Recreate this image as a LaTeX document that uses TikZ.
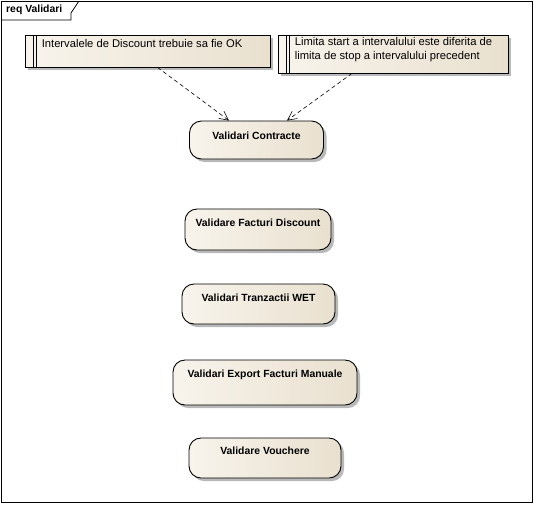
\documentclass[tikz,border=0pt]{standalone}
\usepackage{fontspec}
\setmainfont{Liberation Sans}
\usetikzlibrary{arrows.meta,shadows,calc}
\definecolor{fillL}{HTML}{F8F4EC}
\definecolor{fillR}{HTML}{E9E0CF}
\definecolor{shadowc}{HTML}{A8A8A8}
\tikzset{
  ucbox/.style={draw=black, line width=0.9pt, rounded corners=12pt, left color=fillL, right color=fillR,
    drop shadow={shadow xshift=3pt, shadow yshift=-3pt, fill=shadowc, opacity=0.8}, inner sep=0pt},
  notebox/.style={draw=black, line width=0.8pt, left color=fillL, right color=fillR,
    drop shadow={shadow xshift=3pt, shadow yshift=-3pt, fill=shadowc, opacity=0.8}, inner sep=0pt},
  uclabel/.style={font=\fontsize{10.4}{12}\selectfont\bfseries, inner sep=0pt},
  notelabel/.style={font=\fontsize{11.2}{14}\selectfont, inner sep=0pt, align=left, anchor=north west},
  bar/.style={draw=black, line width=0.7pt},
  trace/.style={draw=black, line width=0.6pt, dash pattern=on 4pt off 3pt, -{Straight Barb[length=9pt,width=9pt]}},
}
\begin{document}
\begin{tikzpicture}[x=1pt,y=-1pt]
\useasboundingbox (0,0) rectangle (534,504);
% frame
\draw[line width=1pt] (1,1) rectangle (532,502);
\draw[line width=0.8pt] (1,20) -- (71,20) -- (71,13) -- (79,1);
\node[font=\fontsize{10.4}{12}\selectfont\bfseries, anchor=west, inner sep=0pt] (title) at (6,10) {req Validari};
% notes
\node[notebox, minimum width=245pt, minimum height=32pt] (n1) at (147.5,51) {};
\draw[bar] ($(n1.north west)+(9,0)$) -- ($(n1.south west)+(9,0)$);
\draw[bar] ($(n1.north west)+(12,0)$) -- ($(n1.south west)+(12,0)$);
\node[notelabel] (n1t) at ($(n1.north west)+(17,5)$) {Intervalele de Discount trebuie sa fie OK};
\node[notebox, minimum width=230pt, minimum height=38pt] (n2) at (393,54) {};
\draw[bar] ($(n2.north west)+(9,0)$) -- ($(n2.south west)+(9,0)$);
\draw[bar] ($(n2.north west)+(12,0)$) -- ($(n2.south west)+(12,0)$);
\node[notelabel] (n2t) at ($(n2.north west)+(17,3)$) {Limita start a intervalului este diferita de\\limita de stop a intervalului precedent};
% use cases
\node[ucbox, minimum width=134pt, minimum height=38pt] (vc) at (256.5,140) {};
\node[uclabel] (vct) at ($(vc.north)+(0,15)$) {Validari Contracte};
\node[ucbox, minimum width=146pt, minimum height=41pt] (vfd) at (258,229.5) {};
\node[uclabel] (vfdt) at ($(vfd.north)+(0,14)$) {Validare Facturi Discount};
\node[ucbox, minimum width=153pt, minimum height=40pt] (wet) at (258.5,304) {};
\node[uclabel] (wett) at ($(wet.north)+(0,14)$) {Validari Tranzactii WET};
\node[ucbox, minimum width=184pt, minimum height=45pt] (vefm) at (265,382.5) {};
\node[uclabel] (vefmt) at ($(vefm.north)+(0,15)$) {Validari Export Facturi Manuale};
\node[ucbox, minimum width=152pt, minimum height=40pt] (vv) at (265,458) {};
\node[uclabel] (vvt) at ($(vv.north)+(0,13)$) {Validare Vouchere};
% traces
\draw[trace] ($(n1.south)+(10,0)$) -- ($(vc.north)+(-27.5,0)$);
\draw[trace] ($(n2.south)+(-41,0)$) -- ($(vc.north)+(30.5,0)$);
\end{tikzpicture}
\end{document}
